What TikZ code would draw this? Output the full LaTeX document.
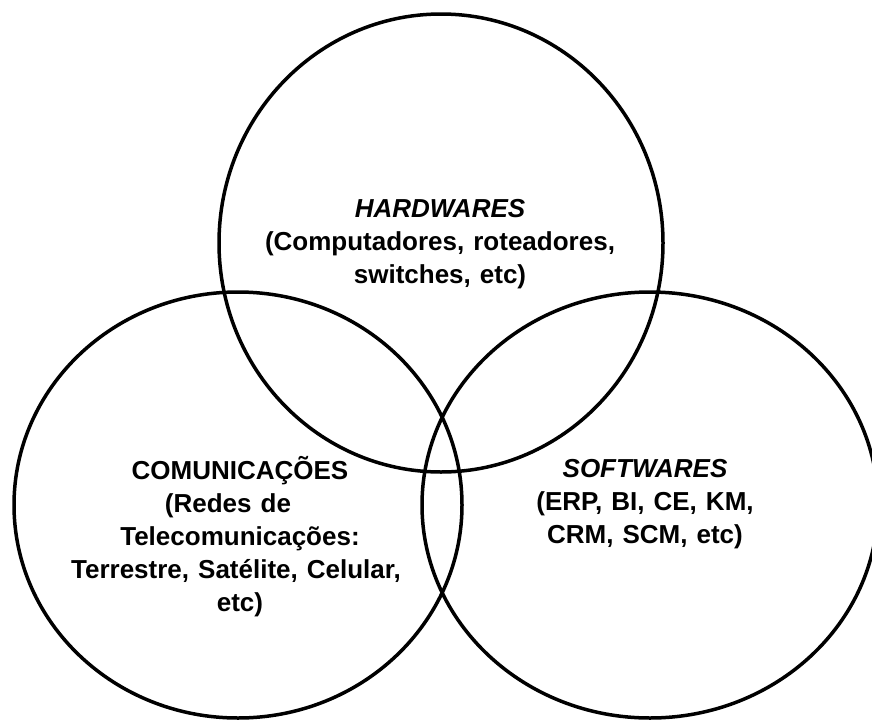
\documentclass[tikz,border=0pt]{standalone}
\usepackage{fontspec}
\setmainfont{Liberation Sans}[WordSpace=1.25]
\begin{document}
\begin{tikzpicture}[x=1pt,y=-1pt,
  ring/.style={draw=black,line width=3.5pt},
  lbl/.style={font=\bfseries\fontsize{26}{33}\selectfont,align=center,inner sep=0pt}]
\useasboundingbox (0,0) rectangle (872,720);
\draw[ring] (441,243) ellipse [x radius=222,y radius=229];
\draw[ring] (238,505) ellipse [x radius=224,y radius=213];
\draw[ring] (650,505) ellipse [x radius=228,y radius=213];
\node[lbl] (hw) at (440,244) {\textit{HARDWARES}\\(Computadores, roteadores,\\switches, etc)};
\node[lbl] (sw) at (645,504) {\textit{SOFTWARES}\\(ERP, BI, CE, KM,\\CRM, SCM, etc)};
\node[lbl] (com) at (240,537) {COMUNICAÇÕES\\(Redes de\rule{24pt}{0pt}\\Telecomunicações:\\Terrestre, Satélite, Celular,\rule{8pt}{0pt}\\etc)};
\end{tikzpicture}
\end{document}
